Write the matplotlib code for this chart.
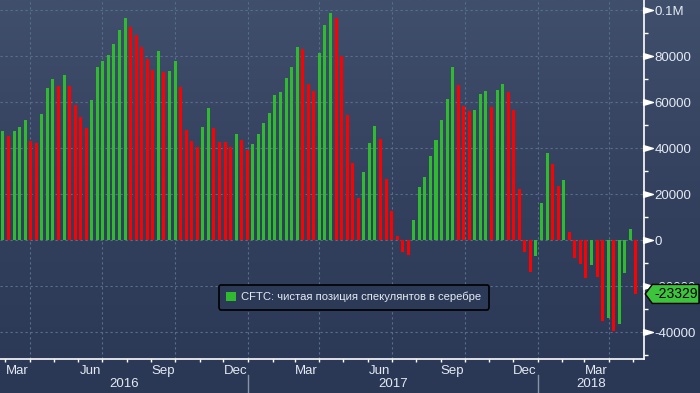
import numpy as np
import pandas as pd
import matplotlib
matplotlib.use('Agg')
import matplotlib.pyplot as plt
import matplotlib.dates as mdates
from matplotlib.colors import LinearSegmentedColormap
from matplotlib.patches import Patch, Polygon
from matplotlib.ticker import FixedLocator, MultipleLocator, FuncFormatter
from matplotlib.transforms import blended_transform_factory, IdentityTransform

plt.rcParams['font.family'] = ['Liberation Sans', 'DejaVu Sans']

# weekly CFTC net speculative position in silver (contracts)
first_week = '2016-02-27'
net_position = [47500, 45300, 47500, 49300, 52300, 43200, 42300, 54900, 66200, 70100,
                67100, 71900, 67100, 58800, 53600, 48800, 61000, 75400, 78000, 80600,
                85400, 91400, 96700, 92700, 89300, 84100, 78800, 74000, 82300, 73200,
                73600, 78000, 66600, 48000, 43200, 40600, 49300, 57500, 48800, 42900,
                42700, 40600, 46200, 43600, 39300, 41900, 46200, 51000, 55300, 63200,
                64500, 70600, 75400, 84100, 83200, 67900, 64900, 81400, 93600, 98800,
                96700, 80200, 54500, 33600, 18400, 29700, 42300, 49700, 44000, 26700,
                12700, 1900, -5000, -6300, 8800, 23200, 27500, 36600, 43600, 52300,
                61400, 75400, 67500, 58400, 56200, 56600, 63600, 64900, 58000, 65400,
                67900, 64500, 56600, 22300, -4950, -13600, -6700, 16200, 38000, 33200,
                23600, 26200, 3700, -7550, -10200, -16300, -10600, -15800, -34900, -33600,
                -39300, -36300, -14100, 4900, -23329]
prev_value = 46000  # week before the first bar (first bar is green)
last_label = '-23329'
legend_label = 'CFTC: чистая позиция спекулянтов в серебре'
y_ticks = [-40000, -20000, 0, 20000, 40000, 60000, 80000, 100000]
years = [2016, 2017, 2018]

GREEN = '#2fba2f'
RED = '#ff0000'
TXT = '#e4eaf3'
GRID = '#56708e'

dates = pd.date_range(first_week, periods=len(net_position), freq='7D')
diffs = np.diff(np.r_[prev_value, net_position])
colors = [GREEN if d > 0 else RED for d in diffs]

fig = plt.figure(figsize=(7, 3.93), dpi=100)

# gradient background
bg = fig.add_axes([0, 0, 1, 1], zorder=-1)
cmap = LinearSegmentedColormap.from_list('bb', ['#2b3855', '#33405e', '#404f6b'])
bg.imshow(np.linspace(0, 1, 256).reshape(-1, 1), aspect='auto', cmap=cmap,
          origin='lower', extent=[0, 1, 0, 1])
bg.axis('off')

ax = fig.add_axes([0, 0.0858, 0.9204, 0.9142])
ax.set_facecolor('none')

ax.bar(dates, net_position, width=3.8, color=colors, zorder=3)

jan17 = mdates.date2num(pd.Timestamp('2017-01-01'))
x_left, x_right = jan17 - 312.7, jan17 + 499.6
ax.set_xlim(x_left, x_right)
ax.set_ylim(-51740, 104480)

# gridlines
for q in pd.date_range('2016-01-01', '2018-06-01', freq='QS'):
    ax.axvline(q, color=GRID, lw=0.8, ls=(0, (2, 2.5)), zorder=1)
ax.yaxis.set_major_locator(FixedLocator(y_ticks))
ax.grid(axis='y', which='major', color=GRID, lw=0.8, ls=(0, (2, 2.5)), zorder=1)

# right axis
ax.yaxis.tick_right()
ax.yaxis.set_minor_locator(MultipleLocator(10000))
ax.yaxis.set_major_formatter(FuncFormatter(lambda v, p: '0.1M' if v >= 100000 else f'{v:.0f}'))
ax.tick_params(axis='y', which='major', length=0, pad=7.5, labelsize=9.5, labelcolor=TXT)
ax.tick_params(axis='y', which='minor', length=3, width=1, color='white', direction='out')
tri = [(-1, -0.6), (1, 0), (-1, 0.6), (-1, -0.6)]
trans_y = blended_transform_factory(ax.transAxes, ax.transData)
ax.plot([1.0065] * len(y_ticks), y_ticks, ls='none', marker=tri, ms=7, color='white',
        transform=trans_y, clip_on=False, zorder=5)

# bottom axis
ax.xaxis.set_minor_locator(mdates.MonthLocator())
ax.xaxis.set_major_locator(mdates.MonthLocator(bymonth=[3, 6, 9, 12], bymonthday=16))
ax.xaxis.set_major_formatter(mdates.DateFormatter('%b'))
ax.tick_params(axis='x', which='major', length=0, pad=4, labelsize=9.5, labelcolor=TXT)
ax.tick_params(axis='x', which='minor', length=2.5, width=1, color='white', direction='out')

for side in ['top', 'left']:
    ax.spines[side].set_visible(False)
for side in ['bottom', 'right']:
    ax.spines[side].set_color('white')
    ax.spines[side].set_linewidth(1.2)

# year labels and separators
trans_x = blended_transform_factory(ax.transData, ax.transAxes)
bounds = [x_left] + [mdates.date2num(pd.Timestamp(f'{y}-01-01')) for y in years[1:]] + [x_right]
for i, y in enumerate(years):
    ax.text((bounds[i] + bounds[i + 1]) / 2, -0.07, str(y), transform=trans_x,
            ha='center', va='center', fontsize=9.5, color=TXT)
for b in bounds[1:-1]:
    ax.plot([b, b], [-0.044, -0.1], color='#8a94a8', lw=1, transform=trans_x, clip_on=False)

# legend
leg = ax.legend(handles=[Patch(facecolor=GREEN, edgecolor='none')], labels=[legend_label],
                loc='center left', bbox_to_anchor=(0.331, 0.173), fontsize=8.1,
                handlelength=0.85, handleheight=0.85, handletextpad=0.5,
                borderpad=0.65, frameon=True, fancybox=True)
leg.get_frame().set_facecolor('#2d3a57')
leg.get_frame().set_edgecolor('black')
leg.get_frame().set_linewidth(1.2)
leg.get_frame().set_alpha(1)
for t in leg.get_texts():
    t.set_color(TXT)
leg.set_zorder(6)

# last value flag
yc = ax.transData.transform((x_left, net_position[-1]))[1]
xa = ax.transAxes.transform((1, 0))[0]
flag = Polygon([(xa + 1, yc), (xa + 8, yc + 9.5), (699, yc + 9.5), (699, yc - 9.5),
                (xa + 8, yc - 9.5)], closed=True, facecolor='#3cc43c', edgecolor='black',
               lw=1, transform=IdentityTransform(), zorder=10)
fig.add_artist(flag)
fig.text(676, yc, last_label, transform=IdentityTransform(), ha='center', va='center',
         fontsize=10, color='black', zorder=11)

plt.savefig('out.png', dpi=100)
